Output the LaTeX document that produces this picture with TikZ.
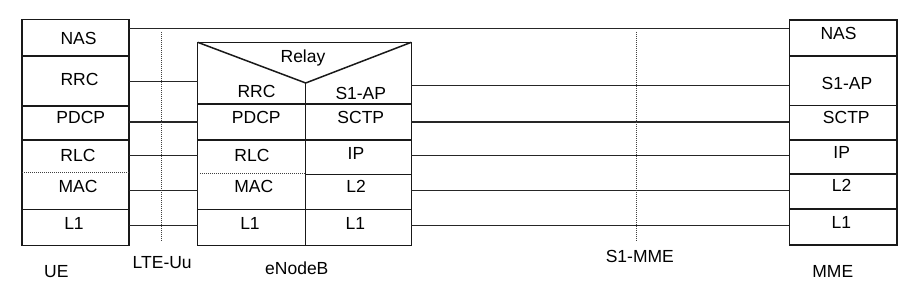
\documentclass[tikz,border=0pt]{standalone}
\usepackage{fontspec}
\setmainfont{Liberation Sans}
\usetikzlibrary{fit}
\begin{document}
\begin{tikzpicture}[x=1pt,y=-1pt,
  box/.style={draw=black!90, line width=1.5pt, inner sep=0pt, outer sep=0pt},
  sepline/.style={draw=black!90, line width=1.5pt},
  conn/.style={draw=black!85, line width=1.2pt},
  dotline/.style={draw=black!75, line width=0.9pt, dash pattern=on 1pt off 1pt},
  lbl/.style={anchor=base, inner sep=0pt, font=\fontsize{17.5}{20}\selectfont}]
\useasboundingbox (0,0) rectangle (919,307);

% ---------- UE stack ----------
\node[box, fit={(22,19.3) (129,56)}] (ueNAS) {};
\node[box, fit={(22,56) (129,106)}] (ueRRC) {};
\node[box, fit={(22,106) (129,140)}] (uePDCP) {};
\node[box, fit={(22,140) (129,209.3)}] (ueRLCMAC) {};
\node[box, fit={(22,209.3) (129,245.3)}] (ueL1) {};
\coordinate (ueDot) at (0,172.3);
\draw[dotline] (ueRLCMAC.west |- ueDot) -- (ueRLCMAC.east |- ueDot);

\node[lbl] (tUeNAS) at (78.5,44.3) {NAS};
\node[lbl] (tUeRRC) at (79.5,85.3) {RRC};
\node[lbl] (tUePDCP) at (80.8,123.3) {PDCP};
\node[lbl] (tUeRLC) at (78,162) {RLC};
\node[lbl] (tUeMAC) at (78,192.7) {MAC};
\node[lbl] (tUeL1) at (74,229.3) {L1};

% ---------- eNodeB stack ----------
\node[box, fit={(197.7,42.3) (411.3,104)}] (enbTop) {};
\coordinate (apex) at (305.7,83);
\draw[sepline] (enbTop.north west) -- (apex) -- (enbTop.north east);
\draw[sepline] (apex) -- (apex |- enbTop.south);
\node[box, fit={(197.7,104) (305.7,140)}] (enbPDCP) {};
\node[box, fit={(305.7,104) (411.3,140)}] (enbSCTP) {};
\node[box, fit={(197.7,140) (305.7,209.3)}] (enbRLCMAC) {};
\node[box, fit={(305.7,140) (411.3,174.7)}] (enbIP) {};
\node[box, fit={(305.7,174.7) (411.3,209.3)}] (enbL2) {};
\node[box, fit={(197.7,209.3) (305.7,245.3)}] (enbL1a) {};
\node[box, fit={(305.7,209.3) (411.3,245.3)}] (enbL1b) {};
\coordinate (enbDotA) at (200,173.3);
\coordinate (enbDotB) at (305,173.3);
\draw[dotline] (enbDotA) -- (enbDotB);

\node[lbl] (tRelay) at (303,62.7) {Relay};
\node[lbl] (tEnbRRC) at (256.5,97.7) {RRC};
\node[lbl] (tEnbS1) at (360.8,99.3) {S1-AP};
\node[lbl] (tEnbPDCP) at (256.3,123.3) {PDCP};
\node[lbl] (tEnbSCTP) at (360.8,123.3) {SCTP};
\node[lbl] (tEnbRLC) at (252,162) {RLC};
\node[lbl] (tEnbIP) at (356,159.3) {IP};
\node[lbl] (tEnbMAC) at (253.8,192.7) {MAC};
\node[lbl] (tEnbL2) at (356,192.7) {L2};
\node[lbl] (tEnbL1a) at (250,229.3) {L1};
\node[lbl] (tEnbL1b) at (355.3,229.3) {L1};

% ---------- MME stack ----------
\node[box, fit={(789.3,20) (897,56)}] (mmeNAS) {};
\node[box, fit={(789.3,56) (897,105.3)}] (mmeS1) {};
\node[box, fit={(789.3,105.3) (897,140)}] (mmeSCTP) {};
\node[box, fit={(789.3,140) (897,174)}] (mmeIP) {};
\node[box, fit={(789.3,174) (897,209)}] (mmeL2) {};
\node[box, fit={(789.3,209) (897,245)}] (mmeL1) {};

\node[lbl] (tMmeNAS) at (838.5,39.3) {NAS};
\node[lbl] (tMmeS1) at (847,90) {S1-AP};
\node[lbl] (tMmeSCTP) at (846.3,123.3) {SCTP};
\node[lbl] (tMmeIP) at (841.7,158.7) {IP};
\node[lbl] (tMmeL2) at (841.7,192) {L2};
\node[lbl] (tMmeL1) at (841.3,228.7) {L1};

% ---------- connectors ----------
\coordinate (yNAS) at (0,28.7);
\coordinate (yRRC) at (0,81.3);
\coordinate (yS1) at (0,85.3);
\coordinate (yPDCP) at (0,122);
\coordinate (yRLC) at (0,155.7);
\coordinate (yMAC) at (0,190.7);
\coordinate (yL1) at (0,225.3);

\draw[conn] (ueNAS.east |- yNAS) -- (mmeNAS.west |- yNAS);
\draw[conn] (ueRRC.east |- yRRC) -- (enbTop.west |- yRRC);
\draw[conn] (uePDCP.east |- yPDCP) -- (enbPDCP.west |- yPDCP);
\draw[conn] (ueRLCMAC.east |- yRLC) -- (enbRLCMAC.west |- yRLC);
\draw[conn] (ueRLCMAC.east |- yMAC) -- (enbRLCMAC.west |- yMAC);
\draw[conn] (ueL1.east |- yL1) -- (enbL1a.west |- yL1);

\draw[conn] (enbTop.east |- yS1) -- (mmeS1.west |- yS1);
\draw[conn] (enbSCTP.east |- yPDCP) -- (mmeSCTP.west |- yPDCP);
\draw[conn] (enbIP.east |- yRLC) -- (mmeIP.west |- yRLC);
\draw[conn] (enbL2.east |- yMAC) -- (mmeL2.west |- yMAC);
\draw[conn] (enbL1b.east |- yL1) -- (mmeL1.west |- yL1);

% ---------- reference points ----------
\coordinate (uuTop) at (161,32);
\coordinate (uuBot) at (161,240.7);
\draw[dotline] (uuTop) -- (uuBot);
\coordinate (s1Top) at (636,32);
\coordinate (s1Bot) at (636,241.7);
\draw[dotline] (s1Top) -- (s1Bot);

% ---------- bottom labels ----------
\node[lbl] (tUE) at (56.3,277.7) {UE};
\node[lbl] (tUu) at (162.2,268.3) {LTE-Uu};
\node[lbl] (tENB) at (296.8,275) {eNodeB};
\node[lbl] (tS1MME) at (639.8,262.7) {S1-MME};
\node[lbl] (tMME) at (832.8,277.7) {MME};
\end{tikzpicture}
\end{document}
